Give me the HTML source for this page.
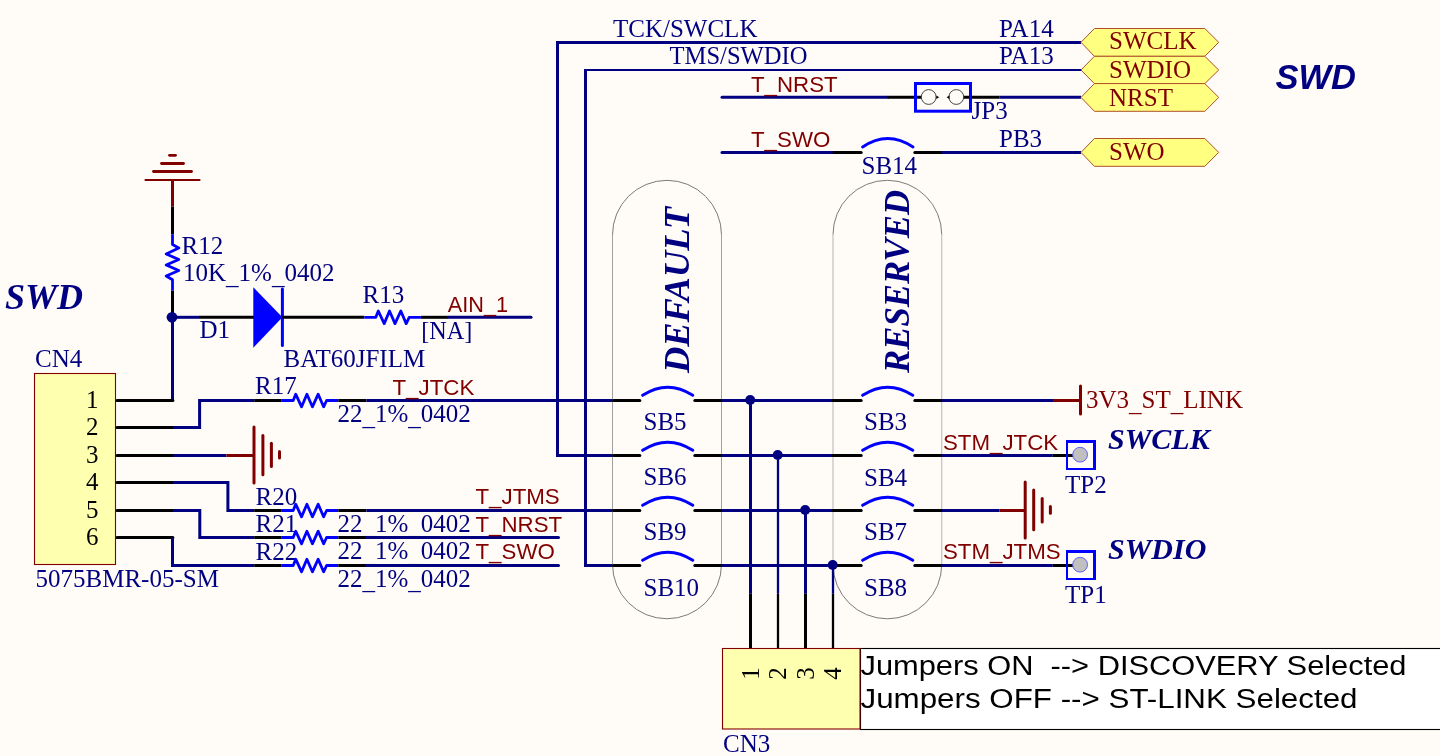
<!DOCTYPE html><html><head><meta charset="utf-8"><style>html,body{margin:0;padding:0;background:#FFFCF8;}svg{display:block;will-change:transform}</style></head><body>
<svg width="1440" height="756" viewBox="0 0 1440 756">
<rect x="0" y="0" width="1440" height="756" fill="#FFFCF8"/>
<text x="613" y="36.7" font-family="Liberation Serif" font-size="25" fill="#000080" font-weight="normal" font-style="normal" >TCK/SWCLK</text>
<text x="669.5" y="64.2" font-family="Liberation Serif" font-size="25" fill="#000080" font-weight="normal" font-style="normal" textLength="138" lengthAdjust="spacingAndGlyphs">TMS/SWDIO</text>
<text x="999" y="37.1" font-family="Liberation Serif" font-size="25" fill="#000080" font-weight="normal" font-style="normal" >PA14</text>
<text x="999" y="64.2" font-family="Liberation Serif" font-size="25" fill="#000080" font-weight="normal" font-style="normal" >PA13</text>
<text x="971.5" y="118.5" font-family="Liberation Serif" font-size="25" fill="#000080" font-weight="normal" font-style="normal" >JP3</text>
<text x="999" y="147.2" font-family="Liberation Serif" font-size="25" fill="#000080" font-weight="normal" font-style="normal" >PB3</text>
<text x="861.5" y="173.7" font-family="Liberation Serif" font-size="25" fill="#000080" font-weight="normal" font-style="normal" >SB14</text>
<text x="181.5" y="253.8" font-family="Liberation Serif" font-size="25" fill="#000080" font-weight="normal" font-style="normal" >R12</text>
<text x="183" y="281" font-family="Liberation Serif" font-size="25" fill="#000080" font-weight="normal" font-style="normal" >10K<tspan dy="2.8">_</tspan><tspan dy="-2.8">1%</tspan><tspan dy="2.8">_</tspan><tspan dy="-2.8">0402</tspan></text>
<text x="199.5" y="338.4" font-family="Liberation Serif" font-size="25" fill="#000080" font-weight="normal" font-style="normal" >D1</text>
<text x="283.5" y="366.7" font-family="Liberation Serif" font-size="25" fill="#000080" font-weight="normal" font-style="normal" >BAT60JFILM</text>
<text x="362.5" y="302.8" font-family="Liberation Serif" font-size="25" fill="#000080" font-weight="normal" font-style="normal" >R13</text>
<text x="421.2" y="338.9" font-family="Liberation Serif" font-size="24.2" fill="#000080" font-weight="normal" font-style="normal" >[NA]</text>
<text x="35" y="366.9" font-family="Liberation Serif" font-size="25" fill="#000080" font-weight="normal" font-style="normal" >CN4</text>
<text x="35.5" y="587" font-family="Liberation Serif" font-size="25" fill="#000080" font-weight="normal" font-style="normal" >5075BMR-05-SM</text>
<text x="255" y="394.2" font-family="Liberation Serif" font-size="25" fill="#000080" font-weight="normal" font-style="normal" >R17</text>
<text x="337.5" y="421.7" font-family="Liberation Serif" font-size="25" fill="#000080" font-weight="normal" font-style="normal" >22<tspan dy="2.8">_</tspan><tspan dy="-2.8">1%</tspan><tspan dy="2.8">_</tspan><tspan dy="-2.8">0402</tspan></text>
<text x="255.5" y="504.6" font-family="Liberation Serif" font-size="25" fill="#000080" font-weight="normal" font-style="normal" >R20</text>
<text x="337.5" y="531.5" font-family="Liberation Serif" font-size="25" fill="#000080" font-weight="normal" font-style="normal" >22<tspan dy="2.8">_</tspan><tspan dy="-2.8">1%</tspan><tspan dy="2.8">_</tspan><tspan dy="-2.8">0402</tspan></text>
<text x="255.5" y="531.7" font-family="Liberation Serif" font-size="25" fill="#000080" font-weight="normal" font-style="normal" >R21</text>
<text x="337.5" y="559" font-family="Liberation Serif" font-size="25" fill="#000080" font-weight="normal" font-style="normal" >22<tspan dy="2.8">_</tspan><tspan dy="-2.8">1%</tspan><tspan dy="2.8">_</tspan><tspan dy="-2.8">0402</tspan></text>
<text x="255.5" y="559.8" font-family="Liberation Serif" font-size="25" fill="#000080" font-weight="normal" font-style="normal" >R22</text>
<text x="337.5" y="586.5" font-family="Liberation Serif" font-size="25" fill="#000080" font-weight="normal" font-style="normal" >22<tspan dy="2.8">_</tspan><tspan dy="-2.8">1%</tspan><tspan dy="2.8">_</tspan><tspan dy="-2.8">0402</tspan></text>
<text x="643.5" y="430" font-family="Liberation Serif" font-size="25" fill="#000080" font-weight="normal" font-style="normal" >SB5</text>
<text x="643.5" y="485" font-family="Liberation Serif" font-size="25" fill="#000080" font-weight="normal" font-style="normal" >SB6</text>
<text x="643.5" y="540" font-family="Liberation Serif" font-size="25" fill="#000080" font-weight="normal" font-style="normal" >SB9</text>
<text x="643.5" y="595.5" font-family="Liberation Serif" font-size="25" fill="#000080" font-weight="normal" font-style="normal" >SB10</text>
<text x="864" y="429.8" font-family="Liberation Serif" font-size="25" fill="#000080" font-weight="normal" font-style="normal" >SB3</text>
<text x="864" y="485.7" font-family="Liberation Serif" font-size="25" fill="#000080" font-weight="normal" font-style="normal" >SB4</text>
<text x="864" y="540" font-family="Liberation Serif" font-size="25" fill="#000080" font-weight="normal" font-style="normal" >SB7</text>
<text x="864" y="595.5" font-family="Liberation Serif" font-size="25" fill="#000080" font-weight="normal" font-style="normal" >SB8</text>
<text x="1065" y="493" font-family="Liberation Serif" font-size="25" fill="#000080" font-weight="normal" font-style="normal" >TP2</text>
<text x="1065" y="603" font-family="Liberation Serif" font-size="25" fill="#000080" font-weight="normal" font-style="normal" >TP1</text>
<text x="723" y="752.2" font-family="Liberation Serif" font-size="25" fill="#000080" font-weight="normal" font-style="normal" >CN3</text>
<path d="M612.5,234.8 A54.5,54.5 0 0 1 721.5,234.8 M612.5,564.3 A54.5,54.5 0 0 0 721.5,564.3" fill="none" stroke="#7A7A7A" stroke-width="1"/>
<path d="M612.5,234.8 V564.3 M721.5,234.8 V564.3" fill="none" stroke="#A0A0A0" stroke-width="1"/>
<path d="M833,234.675 A54.375,54.375 0 0 1 941.75,234.675 M833,564.425 A54.375,54.375 0 0 0 941.75,564.425" fill="none" stroke="#7A7A7A" stroke-width="1"/>
<path d="M833,234.675 V564.425 M941.75,234.675 V564.425" fill="none" stroke="#B4B4B4" stroke-width="1"/>
<polyline points="612.5,455.5 557.5,455.5 557.5,42.5 1081,42.5" fill="none" stroke="#000080" stroke-width="3" stroke-linecap="butt" stroke-linejoin="miter"/>
<polyline points="612.5,565.5 585.5,565.5 585.5,70" fill="none" stroke="#000080" stroke-width="3" stroke-linecap="butt" stroke-linejoin="miter"/>
<line x1="584" y1="70" x2="1081" y2="70" stroke="#000080" stroke-width="2.2" stroke-linecap="butt"/>
<line x1="722" y1="97.3" x2="887.7" y2="97.3" stroke="#000080" stroke-width="3" stroke-linecap="round"/>
<line x1="887.7" y1="97.3" x2="922" y2="97.3" stroke="#000000" stroke-width="3" stroke-linecap="butt"/>
<line x1="963" y1="97.3" x2="999.2" y2="97.3" stroke="#000000" stroke-width="3" stroke-linecap="butt"/>
<line x1="999.2" y1="97.3" x2="1081" y2="97.3" stroke="#000080" stroke-width="3" stroke-linecap="butt"/>
<line x1="722" y1="152.4" x2="834" y2="152.4" stroke="#000080" stroke-width="3" stroke-linecap="round"/>
<line x1="834" y1="152.4" x2="861.2" y2="152.4" stroke="#000000" stroke-width="3" stroke-linecap="round"/>
<line x1="914.8" y1="152.4" x2="942" y2="152.4" stroke="#000000" stroke-width="3" stroke-linecap="round"/>
<line x1="942" y1="152.4" x2="1081" y2="152.4" stroke="#000080" stroke-width="3" stroke-linecap="butt"/>
<path d="M862.6,147 Q887.7,130 913,147" fill="none" stroke="#0000FF" stroke-width="3" stroke-linecap="round"/>
<polygon points="1081,42.3 1094.4,28.5 1204.8,28.5 1218.7,42.3 1204.8,56.3 1094.4,56.3" fill="#FFFF80" stroke="#B0502A" stroke-width="1"/>
<text x="1109" y="49.2" font-family="Liberation Serif" font-size="25" fill="#800000" font-weight="normal" font-style="normal" >SWCLK</text>
<polygon points="1081,70 1094.4,56.3 1204.8,56.3 1218.7,70 1204.8,83.6 1094.4,83.6" fill="#FFFF80" stroke="#B0502A" stroke-width="1"/>
<text x="1109" y="77.6" font-family="Liberation Serif" font-size="25" fill="#800000" font-weight="normal" font-style="normal" >SWDIO</text>
<polygon points="1081,97.4 1094.4,83.6 1204.8,83.6 1218.7,97.4 1204.8,111.3 1094.4,111.3" fill="#FFFF80" stroke="#B0502A" stroke-width="1"/>
<text x="1109" y="105.7" font-family="Liberation Serif" font-size="25" fill="#800000" font-weight="normal" font-style="normal" >NRST</text>
<polygon points="1081,152.4 1094.4,138.5 1204.8,138.5 1218.7,152.4 1204.8,166.3 1094.4,166.3" fill="#FFFF80" stroke="#B0502A" stroke-width="1"/>
<text x="1109" y="159.7" font-family="Liberation Serif" font-size="25" fill="#800000" font-weight="normal" font-style="normal" >SWO</text>
<rect x="915.5" y="83.5" width="55" height="27.7" fill="none" stroke="#0000FF" stroke-width="3"/>
<circle cx="928.7" cy="97" r="7.4" fill="#FFFCF8" stroke="#444" stroke-width="1"/>
<circle cx="956.3" cy="97" r="7.4" fill="#FFFCF8" stroke="#444" stroke-width="1"/>
<polygon points="936.3,95.6 939.2,97.3 936.3,99" fill="#000"/>
<polygon points="949.5,95.6 946.6,97.3 949.5,99" fill="#000"/>
<text x="751" y="92" font-family="Liberation Sans" font-size="22.3" fill="#800000" font-weight="normal" font-style="normal" >T_NRST</text>
<text x="751" y="147" font-family="Liberation Sans" font-size="22.3" fill="#800000" font-weight="normal" font-style="normal" >T_SWO</text>
<text x="1275.5" y="89" font-family="Liberation Sans" font-size="34.5" fill="#000080" font-weight="bold" font-style="italic" >SWD</text>
<line x1="145.5" y1="180" x2="199.5" y2="180" stroke="#800000" stroke-width="2.2" stroke-linecap="round"/>
<line x1="153.5" y1="171.5" x2="191.5" y2="171.5" stroke="#800000" stroke-width="2.8" stroke-linecap="round"/>
<line x1="161.5" y1="163.5" x2="183.5" y2="163.5" stroke="#800000" stroke-width="2.8" stroke-linecap="round"/>
<line x1="169.5" y1="155.3" x2="175.5" y2="155.3" stroke="#800000" stroke-width="2.8" stroke-linecap="round"/>
<line x1="172.5" y1="180" x2="172.5" y2="206.5" stroke="#800000" stroke-width="3" stroke-linecap="butt"/>
<line x1="172.5" y1="206.5" x2="172.5" y2="234.3" stroke="#000000" stroke-width="3" stroke-linecap="butt"/>
<polyline points="172.5,234.3 172.5,244.5 178.8,248 166.2,254 178.8,259.5 166.2,265 178.8,270.5 166.2,276 172.5,279.8 172.5,290.8" fill="none" stroke="#0000FF" stroke-width="2.8" stroke-linecap="butt" stroke-linejoin="round"/>
<line x1="172.5" y1="290.8" x2="172.5" y2="317.3" stroke="#000000" stroke-width="3" stroke-linecap="butt"/>
<line x1="172.5" y1="317.3" x2="199" y2="317.3" stroke="#000080" stroke-width="3" stroke-linecap="butt"/>
<line x1="199" y1="317.3" x2="254" y2="317.3" stroke="#000000" stroke-width="3" stroke-linecap="butt"/>
<polygon points="253.3,287.2 253.3,347.8 282.4,317.3" fill="#0000FF"/>
<line x1="282.4" y1="289" x2="282.4" y2="345.6" stroke="#0000FF" stroke-width="3" stroke-linecap="round"/>
<line x1="282.4" y1="317.3" x2="364.3" y2="317.3" stroke="#000000" stroke-width="3" stroke-linecap="butt"/>
<polyline points="364.3,317.3 375.8,317.3 378.3,311.0 384.2,323.6 389.5,311.0 395.0,323.6 400.8,311.0 406.2,323.6 409.2,317.3 420.90000000000003,317.3" fill="none" stroke="#0000FF" stroke-width="2.8" stroke-linecap="butt" stroke-linejoin="round"/>
<line x1="420.9" y1="317.3" x2="448.3" y2="317.3" stroke="#000000" stroke-width="3" stroke-linecap="butt"/>
<line x1="448.3" y1="317.3" x2="531" y2="317.3" stroke="#000080" stroke-width="3" stroke-linecap="round"/>
<text x="447.8" y="311.8" font-family="Liberation Sans" font-size="21.7" fill="#800000" font-weight="normal" font-style="normal" >AIN_1</text>
<text x="5" y="309.2" font-family="Liberation Serif" font-size="36" fill="#000080" font-weight="bold" font-style="italic" >SWD</text>
<circle cx="172" cy="317.3" r="5.4" fill="#000080"/>
<line x1="172.5" y1="317.3" x2="172.5" y2="400.5" stroke="#000080" stroke-width="3" stroke-linecap="butt"/>
<rect x="34.5" y="373.5" width="81" height="191" fill="#FFFFB0" stroke="#800000" stroke-width="1.1"/>
<line x1="117" y1="400.5" x2="172.9" y2="400.5" stroke="#000000" stroke-width="3" stroke-linecap="round"/>
<text x="98.5" y="407.7" font-family="Liberation Serif" font-size="25" fill="#000000" font-weight="normal" font-style="normal" text-anchor="end">1</text>
<line x1="117" y1="427.5" x2="172.9" y2="427.5" stroke="#000000" stroke-width="3" stroke-linecap="round"/>
<text x="98.5" y="434.7" font-family="Liberation Serif" font-size="25" fill="#000000" font-weight="normal" font-style="normal" text-anchor="end">2</text>
<line x1="117" y1="455.5" x2="172.9" y2="455.5" stroke="#000000" stroke-width="3" stroke-linecap="round"/>
<text x="98.5" y="462.7" font-family="Liberation Serif" font-size="25" fill="#000000" font-weight="normal" font-style="normal" text-anchor="end">3</text>
<line x1="117" y1="482.5" x2="172.9" y2="482.5" stroke="#000000" stroke-width="3" stroke-linecap="round"/>
<text x="98.5" y="489.7" font-family="Liberation Serif" font-size="25" fill="#000000" font-weight="normal" font-style="normal" text-anchor="end">4</text>
<line x1="117" y1="510.5" x2="172.9" y2="510.5" stroke="#000000" stroke-width="3" stroke-linecap="round"/>
<text x="98.5" y="517.7" font-family="Liberation Serif" font-size="25" fill="#000000" font-weight="normal" font-style="normal" text-anchor="end">5</text>
<line x1="117" y1="537.5" x2="172.9" y2="537.5" stroke="#000000" stroke-width="3" stroke-linecap="round"/>
<text x="98.5" y="544.7" font-family="Liberation Serif" font-size="25" fill="#000000" font-weight="normal" font-style="normal" text-anchor="end">6</text>
<polyline points="172.9,427.5 199.6,427.5 199.6,400.5 254.2,400.5" fill="none" stroke="#000080" stroke-width="3" stroke-linecap="butt" stroke-linejoin="miter"/>
<polyline points="172.9,455.5 226.4,455.5" fill="none" stroke="#000080" stroke-width="3" stroke-linecap="butt" stroke-linejoin="miter"/>
<line x1="226.4" y1="455.5" x2="254" y2="455.5" stroke="#800000" stroke-width="3" stroke-linecap="butt"/>
<line x1="254" y1="427" x2="254" y2="483" stroke="#800000" stroke-width="3" stroke-linecap="round"/>
<line x1="262.9" y1="435.5" x2="262.9" y2="474.8" stroke="#800000" stroke-width="3" stroke-linecap="round"/>
<line x1="271.4" y1="443.3" x2="271.4" y2="466.4" stroke="#800000" stroke-width="3" stroke-linecap="round"/>
<line x1="279.5" y1="451.4" x2="279.5" y2="458" stroke="#800000" stroke-width="3" stroke-linecap="round"/>
<polyline points="172.9,482.5 227.9,482.5 227.9,510.5 254.2,510.5" fill="none" stroke="#000080" stroke-width="3" stroke-linecap="butt" stroke-linejoin="miter"/>
<polyline points="172.9,510.5 199.8,510.5 199.8,537.5 254.2,537.5" fill="none" stroke="#000080" stroke-width="3" stroke-linecap="butt" stroke-linejoin="miter"/>
<polyline points="172.5,537.5 172.5,565.5 254.2,565.5" fill="none" stroke="#000080" stroke-width="3" stroke-linecap="butt" stroke-linejoin="miter"/>
<line x1="254.2" y1="400.5" x2="281.7" y2="400.5" stroke="#000000" stroke-width="3" stroke-linecap="butt"/>
<polyline points="281.7,400.5 293.2,400.5 295.7,394.2 301.59999999999997,406.8 306.9,394.2 312.4,406.8 318.2,394.2 323.59999999999997,406.8 326.59999999999997,400.5 338.3,400.5" fill="none" stroke="#0000FF" stroke-width="2.8" stroke-linecap="butt" stroke-linejoin="round"/>
<line x1="338.3" y1="400.5" x2="366.5" y2="400.5" stroke="#000000" stroke-width="3" stroke-linecap="butt"/>
<line x1="254.2" y1="510.5" x2="281.7" y2="510.5" stroke="#000000" stroke-width="3" stroke-linecap="butt"/>
<polyline points="281.7,510.5 293.2,510.5 295.7,504.2 301.59999999999997,516.8 306.9,504.2 312.4,516.8 318.2,504.2 323.59999999999997,516.8 326.59999999999997,510.5 338.3,510.5" fill="none" stroke="#0000FF" stroke-width="2.8" stroke-linecap="butt" stroke-linejoin="round"/>
<line x1="338.3" y1="510.5" x2="366.5" y2="510.5" stroke="#000000" stroke-width="3" stroke-linecap="butt"/>
<line x1="254.2" y1="537.5" x2="281.7" y2="537.5" stroke="#000000" stroke-width="3" stroke-linecap="butt"/>
<polyline points="281.7,537.5 293.2,537.5 295.7,531.2 301.59999999999997,543.8 306.9,531.2 312.4,543.8 318.2,531.2 323.59999999999997,543.8 326.59999999999997,537.5 338.3,537.5" fill="none" stroke="#0000FF" stroke-width="2.8" stroke-linecap="butt" stroke-linejoin="round"/>
<line x1="338.3" y1="537.5" x2="366.5" y2="537.5" stroke="#000000" stroke-width="3" stroke-linecap="butt"/>
<line x1="254.2" y1="565.5" x2="281.7" y2="565.5" stroke="#000000" stroke-width="3" stroke-linecap="butt"/>
<polyline points="281.7,565.5 293.2,565.5 295.7,559.2 301.59999999999997,571.8 306.9,559.2 312.4,571.8 318.2,559.2 323.59999999999997,571.8 326.59999999999997,565.5 338.3,565.5" fill="none" stroke="#0000FF" stroke-width="2.8" stroke-linecap="butt" stroke-linejoin="round"/>
<line x1="338.3" y1="565.5" x2="366.5" y2="565.5" stroke="#000000" stroke-width="3" stroke-linecap="butt"/>
<line x1="366.5" y1="400.5" x2="612.5" y2="400.5" stroke="#000080" stroke-width="3" stroke-linecap="butt"/>
<line x1="366.5" y1="510.5" x2="612.5" y2="510.5" stroke="#000080" stroke-width="3" stroke-linecap="butt"/>
<line x1="366.5" y1="537.5" x2="558.5" y2="537.5" stroke="#000080" stroke-width="3" stroke-linecap="round"/>
<line x1="366.5" y1="565.5" x2="558.5" y2="565.5" stroke="#000080" stroke-width="3" stroke-linecap="round"/>
<text x="392.5" y="395" font-family="Liberation Sans" font-size="22.3" fill="#800000" font-weight="normal" font-style="normal" >T_JTCK</text>
<text x="475.5" y="504.4" font-family="Liberation Sans" font-size="22.3" fill="#800000" font-weight="normal" font-style="normal" >T_JTMS</text>
<text x="475.5" y="531.5" font-family="Liberation Sans" font-size="22.3" fill="#800000" font-weight="normal" font-style="normal" >T_NRST</text>
<text x="475.5" y="559" font-family="Liberation Sans" font-size="22.3" fill="#800000" font-weight="normal" font-style="normal" >T_SWO</text>
<line x1="613.5" y1="400.5" x2="639.8" y2="400.5" stroke="#000000" stroke-width="3" stroke-linecap="round"/>
<path d="M642.6,395.3 Q667.7,379.0 692.8,395.3" fill="none" stroke="#0000FF" stroke-width="3" stroke-linecap="round"/>
<line x1="694.8" y1="400.5" x2="721.5" y2="400.5" stroke="#000000" stroke-width="3" stroke-linecap="round"/>
<line x1="721.5" y1="400.5" x2="833" y2="400.5" stroke="#000080" stroke-width="3" stroke-linecap="butt"/>
<line x1="833" y1="400.5" x2="861.2" y2="400.5" stroke="#000000" stroke-width="3" stroke-linecap="round"/>
<path d="M862.6,395.3 Q887.7,379.0 912.8,395.3" fill="none" stroke="#0000FF" stroke-width="3" stroke-linecap="round"/>
<line x1="914.8" y1="400.5" x2="942" y2="400.5" stroke="#000000" stroke-width="3" stroke-linecap="round"/>
<line x1="613.5" y1="455.5" x2="639.8" y2="455.5" stroke="#000000" stroke-width="3" stroke-linecap="round"/>
<path d="M642.6,450.3 Q667.7,434.0 692.8,450.3" fill="none" stroke="#0000FF" stroke-width="3" stroke-linecap="round"/>
<line x1="694.8" y1="455.5" x2="721.5" y2="455.5" stroke="#000000" stroke-width="3" stroke-linecap="round"/>
<line x1="721.5" y1="455.5" x2="833" y2="455.5" stroke="#000080" stroke-width="3" stroke-linecap="butt"/>
<line x1="833" y1="455.5" x2="861.2" y2="455.5" stroke="#000000" stroke-width="3" stroke-linecap="round"/>
<path d="M862.6,450.3 Q887.7,434.0 912.8,450.3" fill="none" stroke="#0000FF" stroke-width="3" stroke-linecap="round"/>
<line x1="914.8" y1="455.5" x2="942" y2="455.5" stroke="#000000" stroke-width="3" stroke-linecap="round"/>
<line x1="613.5" y1="510.5" x2="639.8" y2="510.5" stroke="#000000" stroke-width="3" stroke-linecap="round"/>
<path d="M642.6,505.3 Q667.7,489.0 692.8,505.3" fill="none" stroke="#0000FF" stroke-width="3" stroke-linecap="round"/>
<line x1="694.8" y1="510.5" x2="721.5" y2="510.5" stroke="#000000" stroke-width="3" stroke-linecap="round"/>
<line x1="721.5" y1="510.5" x2="833" y2="510.5" stroke="#000080" stroke-width="3" stroke-linecap="butt"/>
<line x1="833" y1="510.5" x2="861.2" y2="510.5" stroke="#000000" stroke-width="3" stroke-linecap="round"/>
<path d="M862.6,505.3 Q887.7,489.0 912.8,505.3" fill="none" stroke="#0000FF" stroke-width="3" stroke-linecap="round"/>
<line x1="914.8" y1="510.5" x2="942" y2="510.5" stroke="#000000" stroke-width="3" stroke-linecap="round"/>
<line x1="613.5" y1="565.5" x2="639.8" y2="565.5" stroke="#000000" stroke-width="3" stroke-linecap="round"/>
<path d="M642.6,560.3 Q667.7,544.0 692.8,560.3" fill="none" stroke="#0000FF" stroke-width="3" stroke-linecap="round"/>
<line x1="694.8" y1="565.5" x2="721.5" y2="565.5" stroke="#000000" stroke-width="3" stroke-linecap="round"/>
<line x1="721.5" y1="565.5" x2="833" y2="565.5" stroke="#000080" stroke-width="3" stroke-linecap="butt"/>
<line x1="833" y1="565.5" x2="861.2" y2="565.5" stroke="#000000" stroke-width="3" stroke-linecap="round"/>
<path d="M862.6,560.3 Q887.7,544.0 912.8,560.3" fill="none" stroke="#0000FF" stroke-width="3" stroke-linecap="round"/>
<line x1="914.8" y1="565.5" x2="942" y2="565.5" stroke="#000000" stroke-width="3" stroke-linecap="round"/>
<line x1="750.5" y1="400.5" x2="750.5" y2="593.8" stroke="#000080" stroke-width="3" stroke-linecap="butt"/>
<line x1="750.5" y1="593.8" x2="750.5" y2="649" stroke="#000000" stroke-width="3" stroke-linecap="butt"/>
<circle cx="750.2" cy="400.0" r="5" fill="#000080"/>
<line x1="778" y1="455.5" x2="778" y2="593.8" stroke="#000080" stroke-width="2.3" stroke-linecap="butt"/>
<line x1="778" y1="593.8" x2="778" y2="649" stroke="#000000" stroke-width="2.3" stroke-linecap="butt"/>
<circle cx="777.7" cy="455.0" r="5" fill="#000080"/>
<line x1="805.5" y1="510.5" x2="805.5" y2="593.8" stroke="#000080" stroke-width="3" stroke-linecap="butt"/>
<line x1="805.5" y1="593.8" x2="805.5" y2="649" stroke="#000000" stroke-width="3" stroke-linecap="butt"/>
<circle cx="805.2" cy="510.0" r="5" fill="#000080"/>
<line x1="833" y1="565.5" x2="833" y2="593.8" stroke="#000080" stroke-width="2.3" stroke-linecap="butt"/>
<line x1="833" y1="593.8" x2="833" y2="649" stroke="#000000" stroke-width="2.3" stroke-linecap="butt"/>
<circle cx="832.7" cy="565.0" r="5" fill="#000080"/>
<text transform="translate(688.5,373) rotate(-90)" font-family="Liberation Serif" font-size="35" font-weight="bold" font-style="italic" fill="#000080" textLength="166" lengthAdjust="spacingAndGlyphs">DEFAULT</text>
<text transform="translate(908.5,373) rotate(-90)" font-family="Liberation Serif" font-size="35" font-weight="bold" font-style="italic" fill="#000080" textLength="183" lengthAdjust="spacingAndGlyphs">RESERVED</text>
<line x1="942" y1="400.5" x2="1053.9" y2="400.5" stroke="#000080" stroke-width="3" stroke-linecap="butt"/>
<line x1="1053.9" y1="400.5" x2="1080.5" y2="400.5" stroke="#800000" stroke-width="3" stroke-linecap="butt"/>
<line x1="1080.5" y1="386" x2="1080.5" y2="414" stroke="#800000" stroke-width="3" stroke-linecap="round"/>
<text x="1086" y="407.8" font-family="Liberation Serif" font-size="25" fill="#800000" font-weight="normal" font-style="normal" >3V3<tspan dy="2.8">_</tspan><tspan dy="-2.8">ST</tspan><tspan dy="2.8">_</tspan><tspan dy="-2.8">LINK</tspan></text>
<line x1="942" y1="455.5" x2="1052.8" y2="455.5" stroke="#000080" stroke-width="3" stroke-linecap="butt"/>
<line x1="1052.8" y1="455.5" x2="1080" y2="455.5" stroke="#000000" stroke-width="3" stroke-linecap="butt"/>
<line x1="942" y1="510.5" x2="999.5" y2="510.5" stroke="#000080" stroke-width="3" stroke-linecap="butt"/>
<line x1="999.5" y1="510.5" x2="1025.2" y2="510.5" stroke="#800000" stroke-width="3" stroke-linecap="butt"/>
<line x1="1025.2" y1="482" x2="1025.2" y2="538" stroke="#800000" stroke-width="3" stroke-linecap="round"/>
<line x1="1033.7" y1="490" x2="1033.7" y2="529.8" stroke="#800000" stroke-width="3" stroke-linecap="round"/>
<line x1="1042.2" y1="498.6" x2="1042.2" y2="522" stroke="#800000" stroke-width="3" stroke-linecap="round"/>
<line x1="1050.4" y1="506.6" x2="1050.4" y2="513.3" stroke="#800000" stroke-width="3" stroke-linecap="round"/>
<line x1="942" y1="565.5" x2="1052.8" y2="565.5" stroke="#000080" stroke-width="3" stroke-linecap="butt"/>
<line x1="1052.8" y1="565.5" x2="1080" y2="565.5" stroke="#000000" stroke-width="3" stroke-linecap="butt"/>
<path d="M1066,440.0 H1096 V443.0 H1068 V468.0 H1093 V443.0 H1096 V470.0 H1066 Z" fill="#0000FF" fill-rule="evenodd"/>
<circle cx="1080.1" cy="454.7" r="7.4" fill="#C0C0C0" stroke="#6060FF" stroke-width="1"/>
<path d="M1066,550.0 H1096 V553.0 H1068 V578.0 H1093 V553.0 H1096 V580.0 H1066 Z" fill="#0000FF" fill-rule="evenodd"/>
<circle cx="1080.1" cy="564.7" r="7.4" fill="#C0C0C0" stroke="#6060FF" stroke-width="1"/>
<text x="943" y="449.8" font-family="Liberation Sans" font-size="22.3" fill="#800000" font-weight="normal" font-style="normal" >STM_JTCK</text>
<text x="943" y="558.6" font-family="Liberation Sans" font-size="22.3" fill="#800000" font-weight="normal" font-style="normal" >STM_JTMS</text>
<text x="1108" y="448.8" font-family="Liberation Serif" font-size="30" fill="#000080" font-weight="bold" font-style="italic" >SWCLK</text>
<text x="1108" y="558.6" font-family="Liberation Serif" font-size="30" fill="#000080" font-weight="bold" font-style="italic" >SWDIO</text>
<rect x="860.5" y="648.5" width="1077" height="81" fill="#FFFFFF" stroke="#000" stroke-width="1.1"/>
<rect x="722.5" y="648.5" width="137.5" height="80.5" fill="#FFFFB0" stroke="#800000" stroke-width="1.1"/>
<text transform="translate(758.8,673.4) rotate(-90)" font-family="Liberation Serif" font-size="25" fill="#000" text-anchor="middle">1</text>
<text transform="translate(786.3,673.4) rotate(-90)" font-family="Liberation Serif" font-size="25" fill="#000" text-anchor="middle">2</text>
<text transform="translate(813.8,673.4) rotate(-90)" font-family="Liberation Serif" font-size="25" fill="#000" text-anchor="middle">3</text>
<text transform="translate(841.3,673.4) rotate(-90)" font-family="Liberation Serif" font-size="25" fill="#000" text-anchor="middle">4</text>
<text x="860.5" y="674.6" font-family="Liberation Sans" font-size="27" fill="#000" textLength="546" lengthAdjust="spacingAndGlyphs" xml:space="preserve">Jumpers ON  --&gt; DISCOVERY Selected</text>
<text x="860.5" y="708.1" font-family="Liberation Sans" font-size="27" fill="#000" textLength="497" lengthAdjust="spacingAndGlyphs">Jumpers OFF --&gt; ST-LINK Selected</text>
</svg></body></html>
